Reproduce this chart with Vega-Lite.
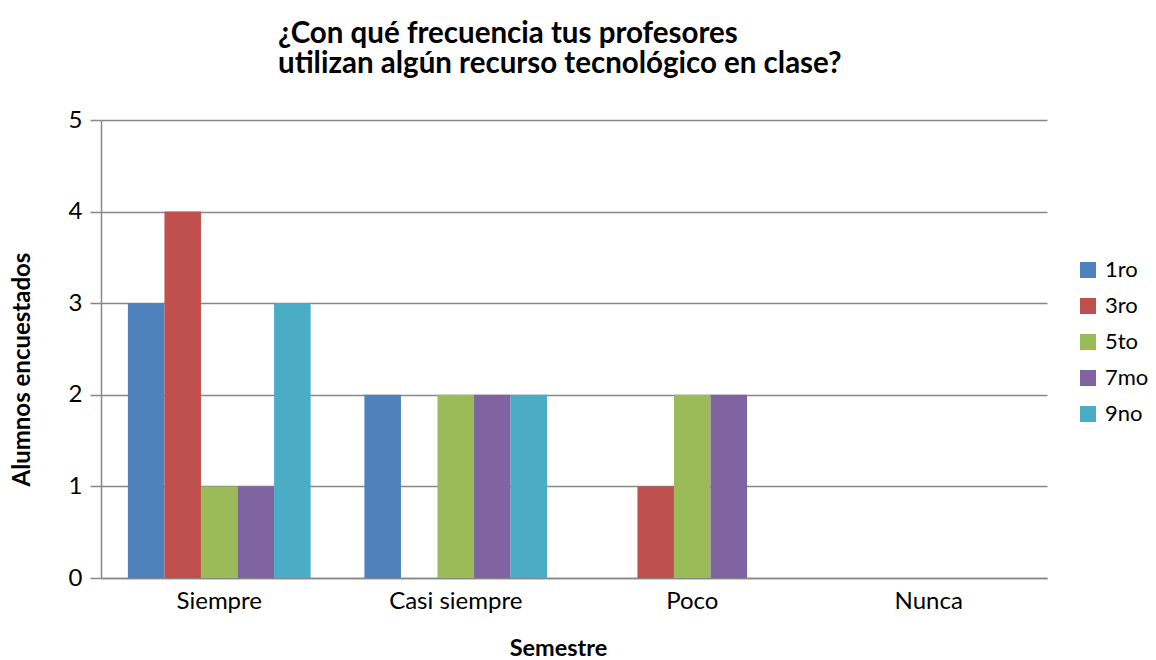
{
  "$schema": "https://vega.github.io/schema/vega-lite/v6.json",
  "autosize": "none",
  "width": 946,
  "height": 458,
  "padding": {"left": 101, "top": 120, "right": 109, "bottom": 82},
  "background": "white",
  "config": {"font": "Lato", "view": {"stroke": null}},
  "title": {
    "text": ["¿Con qué frecuencia tus profesores", "utilizan algún recurso tecnológico en clase?"],
    "anchor": "start",
    "frame": "group",
    "dx": 177,
    "offset": 29,
    "fontSize": 29.5,
    "fontWeight": "bold",
    "font": "Lato",
    "lineHeight": 30,
    "color": "#000000"
  },
  "data": {
    "values": [
      {"cat": "Siempre", "sem": "1ro", "v": 3},
      {"cat": "Siempre", "sem": "3ro", "v": 4},
      {"cat": "Siempre", "sem": "5to", "v": 1},
      {"cat": "Siempre", "sem": "7mo", "v": 1},
      {"cat": "Siempre", "sem": "9no", "v": 3},
      {"cat": "Casi siempre", "sem": "1ro", "v": 2},
      {"cat": "Casi siempre", "sem": "3ro", "v": 0},
      {"cat": "Casi siempre", "sem": "5to", "v": 2},
      {"cat": "Casi siempre", "sem": "7mo", "v": 2},
      {"cat": "Casi siempre", "sem": "9no", "v": 2},
      {"cat": "Poco", "sem": "1ro", "v": 0},
      {"cat": "Poco", "sem": "3ro", "v": 1},
      {"cat": "Poco", "sem": "5to", "v": 2},
      {"cat": "Poco", "sem": "7mo", "v": 2},
      {"cat": "Poco", "sem": "9no", "v": 0},
      {"cat": "Nunca", "sem": "1ro", "v": 0},
      {"cat": "Nunca", "sem": "3ro", "v": 0},
      {"cat": "Nunca", "sem": "5to", "v": 0},
      {"cat": "Nunca", "sem": "7mo", "v": 0},
      {"cat": "Nunca", "sem": "9no", "v": 0}
    ]
  },
  "mark": {"type": "bar"},
  "encoding": {
    "x": {
      "field": "cat",
      "type": "nominal",
      "sort": ["Siempre", "Casi siempre", "Poco", "Nunca"],
      "scale": {"paddingInner": 0, "paddingOuter": 0},
      "axis": {
        "title": "Semestre",
        "titleFontSize": 23.5,
        "titleFontWeight": "bold",
        "titleColor": "#000000",
        "titlePadding": 23,
        "titleX": 457,
        "labelAngle": 0,
        "labelFontSize": 24,
        "labelColor": "#000000",
        "labelPadding": 11,
        "ticks": false,
        "domainColor": "#878787",
        "domainWidth": 1.5,
        "grid": false
      }
    },
    "xOffset": {
      "field": "sem",
      "type": "nominal",
      "sort": ["1ro", "3ro", "5to", "7mo", "9no"],
      "scale": {"paddingInner": 0, "paddingOuter": 0.736}
    },
    "y": {
      "field": "v",
      "type": "quantitative",
      "scale": {"domain": [0, 5], "nice": false},
      "axis": {
        "title": "Alumnos encuestados",
        "titleFontSize": 24,
        "titleFontWeight": "bold",
        "titleColor": "#000000",
        "titlePadding": 34,
        "titleY": 249,
        "values": [0, 1, 2, 3, 4, 5],
        "labelFontSize": 24,
        "labelColor": "#000000",
        "labelPadding": 8,
        "tickSize": 11,
        "tickColor": "#878787",
        "tickWidth": 1.5,
        "domainColor": "#878787",
        "domainWidth": 1.5,
        "grid": true,
        "gridColor": "#878787",
        "gridWidth": 1.5
      }
    },
    "color": {
      "field": "sem",
      "type": "nominal",
      "sort": ["1ro", "3ro", "5to", "7mo", "9no"],
      "scale": {
        "domain": ["1ro", "3ro", "5to", "7mo", "9no"],
        "range": ["#4F81BD", "#C0504D", "#9BBB59", "#8064A2", "#4BACC6"]
      },
      "legend": {
        "title": null,
        "orient": "none",
        "legendX": 976,
        "legendY": 139,
        "symbolType": "square",
        "symbolSize": 256,
        "symbolStrokeWidth": 0,
        "labelFontSize": 22,
        "labelColor": "#000000",
        "labelOffset": 6,
        "rowPadding": 14
      }
    }
  }
}
